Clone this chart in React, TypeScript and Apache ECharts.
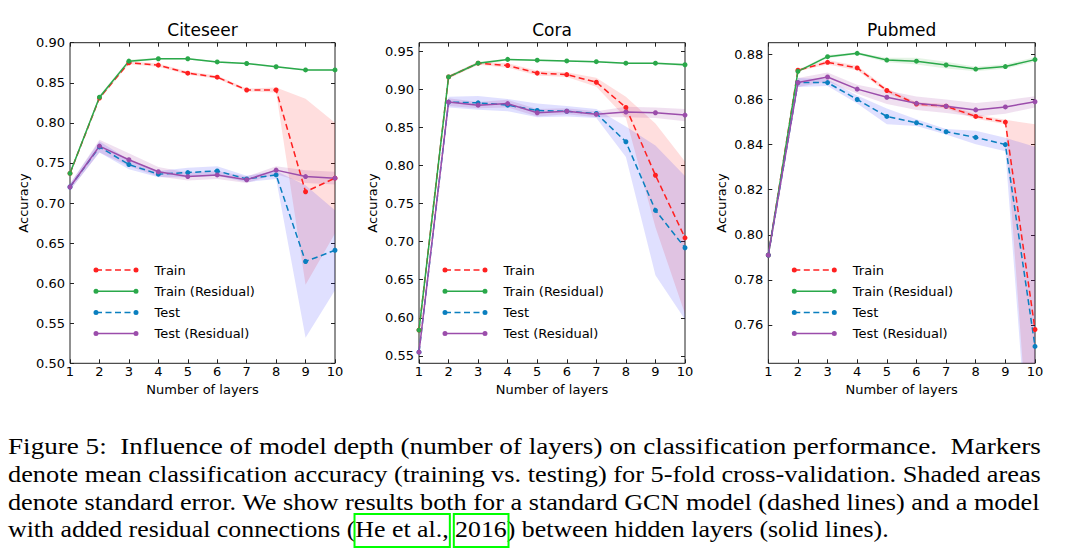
import React, { useEffect, useRef } from "react";
import * as echarts from "echarts";

// ---------- data ----------
const layers = ["1", "2", "3", "4", "5", "6", "7", "8", "9", "10"];
const seriesNames = ["Train", "Train (Residual)", "Test", "Test (Residual)"];
const panelTitles = ["Citeseer", "Cora", "Pubmed"];

// Citeseer
const citeseerTrain = [0.737, 0.831, 0.875, 0.872, 0.862, 0.857, 0.841, 0.841, 0.714, 0.731];
const citeseerTrainRes = [0.737, 0.832, 0.877, 0.88, 0.88, 0.876, 0.874, 0.87, 0.866, 0.866];
const citeseerTest = [0.72, 0.77, 0.748, 0.736, 0.738, 0.74, 0.73, 0.735, 0.627, 0.641];
const citeseerTestRes = [0.72, 0.771, 0.754, 0.739, 0.733, 0.735, 0.729, 0.741, 0.733, 0.731];
const citeseerTrainSe = [0.002, 0.002, 0.002, 0.002, 0.002, 0.002, 0.002, 0.003, 0.116, 0.069];
const citeseerTrainResSe = [0.002, 0.002, 0.002, 0.001, 0.001, 0.001, 0.001, 0.001, 0.001, 0.001];
const citeseerTestSe = [0.004, 0.007, 0.006, 0.004, 0.006, 0.006, 0.004, 0.005, 0.095, 0.05];
const citeseerTestResSe = [0.004, 0.008, 0.008, 0.006, 0.005, 0.005, 0.004, 0.005, 0.008, 0.008];

// Cora
const coraTrain = [0.584, 0.916, 0.934, 0.931, 0.921, 0.919, 0.909, 0.876, 0.787, 0.705];
const coraTrainRes = [0.584, 0.916, 0.934, 0.939, 0.938, 0.937, 0.936, 0.934, 0.934, 0.932];
const coraTest = [0.555, 0.883, 0.882, 0.879, 0.872, 0.871, 0.868, 0.831, 0.741, 0.692];
const coraTestRes = [0.555, 0.883, 0.879, 0.881, 0.869, 0.871, 0.867, 0.87, 0.869, 0.866];
const coraTrainSe = [0.002, 0.002, 0.002, 0.003, 0.003, 0.003, 0.006, 0.014, 0.068, 0.1];
const coraTrainResSe = [0.002, 0.002, 0.002, 0.001, 0.001, 0.001, 0.001, 0.001, 0.001, 0.002];
const coraTestSe = [0.002, 0.007, 0.009, 0.008, 0.009, 0.007, 0.006, 0.02, 0.085, 0.094];
const coraTestResSe = [0.002, 0.005, 0.004, 0.005, 0.005, 0.004, 0.004, 0.007, 0.007, 0.008];

// Pubmed
const pubmedTrain = [0.791, 0.873, 0.8765, 0.874, 0.864, 0.858, 0.857, 0.8525, 0.85, 0.758];
const pubmedTrainRes = [0.791, 0.8725, 0.879, 0.8805, 0.8775, 0.877, 0.8753, 0.8735, 0.8746, 0.8777];
const pubmedTest = [0.791, 0.8675, 0.8675, 0.86, 0.8525, 0.8497, 0.8457, 0.8432, 0.84, 0.7505];
const pubmedTestRes = [0.791, 0.8675, 0.87, 0.8646, 0.861, 0.8583, 0.857, 0.8554, 0.8567, 0.859];
const pubmedTrainSe = [0.0005, 0.0005, 0.001, 0.001, 0.001, 0.0008, 0.001, 0.001, 0.001, 0.091];
const pubmedTrainResSe = [0.0005, 0.0005, 0.0007, 0.0005, 0.001, 0.0015, 0.0015, 0.001, 0.001, 0.001];
const pubmedTestSe = [0.0005, 0.002, 0.0015, 0.0018, 0.0035, 0.0015, 0.0012, 0.003, 0.003, 0.0885];
const pubmedTestResSe = [0.0005, 0.002, 0.002, 0.002, 0.003, 0.003, 0.003, 0.003, 0.003, 0.0025];

// tick labels
const citeseerYTicks = [0.5, 0.55, 0.6, 0.65, 0.7, 0.75, 0.8, 0.85, 0.9];
const coraYTicks = [0.55, 0.6, 0.65, 0.7, 0.75, 0.8, 0.85, 0.9, 0.95];
const pubmedYTicks = [0.76, 0.78, 0.8, 0.82, 0.84, 0.86, 0.88];

const captionLines = [
  "Figure 5:  Influence of model depth (number of layers) on classification performance.  Markers",
  "denote mean classification accuracy (training vs. testing) for 5-fold cross-validation. Shaded areas",
  "denote standard error. We show results both for a standard GCN model (dashed lines) and a model",
  "with added residual connections (He et al., 2016) between hidden layers (solid lines).",
];

// ---------- styling ----------
const FONT = "DejaVu Sans";
const SERIF = "'Times New Roman', 'Liberation Serif', Times, serif";
const lineColors = ["#ff2020", "#2aa84a", "#0a7fbf", "#9b4dab"];
const bandColors = [
  "rgba(255,0,0,0.13)",
  "rgba(0,150,0,0.10)",
  "rgba(0,0,255,0.12)",
  "rgba(128,0,128,0.12)",
];
const dashed = [true, false, true, false];
const frameColor = "#222";

const solidIcon =
  "path://M0,2.5a2.5,2.5 0 1,1 5,0a2.5,2.5 0 1,1 -5,0Z M2.5,1.75L42.5,1.75L42.5,3.25L2.5,3.25Z M40,2.5a2.5,2.5 0 1,1 5,0a2.5,2.5 0 1,1 -5,0Z M56,2.5L56,2.5Z";
const dashedIcon =
  "path://M0,2.5a2.5,2.5 0 1,1 5,0a2.5,2.5 0 1,1 -5,0Z M2.5,1.75L8.5,1.75L8.5,3.25L2.5,3.25Z M12,1.75L18,1.75L18,3.25L12,3.25Z M21.5,1.75L27.5,1.75L27.5,3.25L21.5,3.25Z M31,1.75L37,1.75L37,3.25L31,3.25Z M40,2.5a2.5,2.5 0 1,1 5,0a2.5,2.5 0 1,1 -5,0Z M56,2.5L56,2.5Z";

const panels = [
  {
    title: panelTitles[0],
    means: [citeseerTrain, citeseerTrainRes, citeseerTest, citeseerTestRes],
    ses: [citeseerTrainSe, citeseerTrainResSe, citeseerTestSe, citeseerTestResSe],
    yTicks: citeseerYTicks,
    yMin: 0.5,
    yMax: 0.9,
    left: 70,
    width: 265,
  },
  {
    title: panelTitles[1],
    means: [coraTrain, coraTrainRes, coraTest, coraTestRes],
    ses: [coraTrainSe, coraTrainResSe, coraTestSe, coraTestResSe],
    yTicks: coraYTicks,
    yMin: 0.5404,
    yMax: 0.9609,
    left: 419,
    width: 266,
  },
  {
    title: panelTitles[2],
    means: [pubmedTrain, pubmedTrainRes, pubmedTest, pubmedTestRes],
    ses: [pubmedTrainSe, pubmedTrainResSe, pubmedTestSe, pubmedTestResSe],
    yTicks: pubmedYTicks,
    yMin: 0.743,
    yMax: 0.8852,
    left: 768.3,
    width: 266.7,
  },
];

const GRID_TOP = 42.7;
const GRID_H = 320.6;

function buildOption() {
  const grid: any[] = [];
  const xAxis: any[] = [];
  const yAxis: any[] = [];
  const series: any[] = [];
  const title: any[] = [];
  const legend: any[] = [];

  const tickStyle = { show: true, inside: true, length: 4, lineStyle: { color: frameColor, width: 1 } };

  panels.forEach((p, pi) => {
    grid.push({
      left: p.left,
      top: GRID_TOP,
      width: p.width,
      height: GRID_H,
      show: true,
      borderColor: frameColor,
      borderWidth: 1,
      backgroundColor: "transparent",
    });
    const xBase = {
      type: "category",
      gridIndex: pi,
      data: layers,
      boundaryGap: false,
      axisLine: { show: false },
      splitLine: { show: false },
      axisTick: { ...tickStyle, interval: 0 },
    };
    xAxis.push({
      ...xBase,
      position: "bottom",
      name: "Number of layers",
      nameLocation: "middle",
      nameGap: 19,
      nameTextStyle: { fontFamily: FONT, fontSize: 13, color: "#000" },
      axisLabel: {
        show: true,
        interval: 0,
        margin: 2,
        fontFamily: FONT,
        fontSize: 13,
        color: "#000",
      },
    });
    xAxis.push({ ...xBase, position: "top", axisLabel: { show: false } });

    const yBase = {
      type: "value",
      gridIndex: pi,
      min: p.yMin,
      max: p.yMax,
      axisLine: { show: false },
      splitLine: { show: false },
      axisTick: { ...tickStyle, customValues: p.yTicks },
    };
    yAxis.push({
      ...yBase,
      position: "left",
      name: "Accuracy",
      nameLocation: "middle",
      nameGap: 40,
      nameTextStyle: { fontFamily: FONT, fontSize: 13, color: "#000" },
      axisLabel: {
        show: true,
        margin: 5,
        customValues: p.yTicks,
        fontFamily: FONT,
        fontSize: 13,
        color: "#000",
        formatter: (v: number) => v.toFixed(2),
      },
    });
    yAxis.push({ ...yBase, position: "right", axisLabel: { show: false } });

    title.push({
      text: p.title,
      left: p.left + p.width / 2,
      top: 21,
      textAlign: "center",
      padding: 0,
      textStyle: { fontFamily: FONT, fontSize: 17, fontWeight: "normal", color: "#000" },
    });

    legend.push({
      orient: "vertical",
      left: p.left + 23.5,
      top: 263.5,
      padding: 0,
      itemWidth: 56,
      itemHeight: 5,
      itemGap: 8.2,
      selectedMode: false,
      itemStyle: { borderWidth: 0 },
      textStyle: { fontFamily: FONT, fontSize: 13, color: "#000" },
      data: seriesNames.map((n, k) => ({ name: n, icon: dashed[k] ? dashedIcon : solidIcon })),
    });

    const xi = pi * 2;
    const yi = pi * 2;
    // shaded standard-error bands (stacked: lower bound + band width)
    p.means.forEach((mean, k) => {
      const se = p.ses[k];
      const stack = `band-${pi}-${k}`;
      series.push({
        type: "line",
        name: `${p.title} ${seriesNames[k]} lower`,
        xAxisIndex: xi,
        yAxisIndex: yi,
        stack,
        symbol: "none",
        silent: true,
        lineStyle: { opacity: 0, width: 0 },
        data: mean.map((m, i) => m - se[i]),
        z: 1,
      });
      series.push({
        type: "line",
        name: `${p.title} ${seriesNames[k]} band`,
        xAxisIndex: xi,
        yAxisIndex: yi,
        stack,
        symbol: "none",
        silent: true,
        lineStyle: { opacity: 0, width: 0 },
        areaStyle: { color: bandColors[k], opacity: 1 },
        data: se.map((s) => 2 * s),
        z: 1,
      });
    });
    // mean lines with markers
    p.means.forEach((mean, k) => {
      series.push({
        type: "line",
        name: seriesNames[k],
        xAxisIndex: xi,
        yAxisIndex: yi,
        symbol: "circle",
        symbolSize: 5,
        showSymbol: true,
        showAllSymbol: true,
        silent: true,
        lineStyle: { color: lineColors[k], width: 1.5, type: dashed[k] ? [6, 3.5] : "solid" },
        itemStyle: { color: lineColors[k], borderWidth: 0 },
        data: mean,
        z: 3,
      });
    });
  });

  // caption
  const capSize = 24;
  const canvas = document.createElement("canvas");
  const ctx = canvas.getContext("2d")!;
  ctx.font = `${capSize}px ${SERIF}`;
  const w = (s: string) => ctx.measureText(s).width;
  const capX = 8;
  const lineY = [446, 474, 501.5, 529];
  const targets = [1033, 1033, 1033, 881];
  const graphic: any[] = [];
  const scales = captionLines.map((s, i) => targets[i] / w(s));
  captionLines.forEach((s, i) => {
    graphic.push({
      type: "text",
      x: capX,
      y: lineY[i],
      scaleX: scales[i],
      style: {
        text: s,
        fontFamily: SERIF,
        fontSize: capSize,
        fill: "#000",
        align: "left",
        verticalAlign: "middle",
      },
    });
  });
  const s4 = scales[3];
  const prefix = "with added residual connections (";
  const b1x = capX + w(prefix) * s4 - 1;
  const b1w = w("He et al.,") * s4 + 2;
  const b2x = capX + w(prefix + "He et al., ") * s4 - 1.5;
  const b2w = w("2016") * s4 + 3;
  graphic.push({
    type: "rect",
    shape: { x: b1x, y: 514, width: b1w, height: 33 },
    style: { fill: "none", stroke: "#00ff00", lineWidth: 2 },
  });
  graphic.push({
    type: "rect",
    shape: { x: b2x, y: 514, width: b2w, height: 33 },
    style: { fill: "none", stroke: "#00ff00", lineWidth: 2 },
  });

  return {
    animation: false,
    backgroundColor: "#fff",
    title,
    legend,
    grid,
    xAxis,
    yAxis,
    series,
    graphic,
  };
}

export default function App() {
  const ref = useRef<HTMLDivElement>(null);
  useEffect(() => {
    const el = ref.current;
    if (!el) return;
    const chart = echarts.init(el, undefined, { renderer: "svg" });
    chart.setOption(buildOption() as any);
    return () => {
      chart.dispose();
    };
  }, []);
  return (
    <div
      ref={ref}
      style={{ position: "fixed", left: 0, top: 0, width: 1074, height: 555, background: "#fff" }}
    />
  );
}
